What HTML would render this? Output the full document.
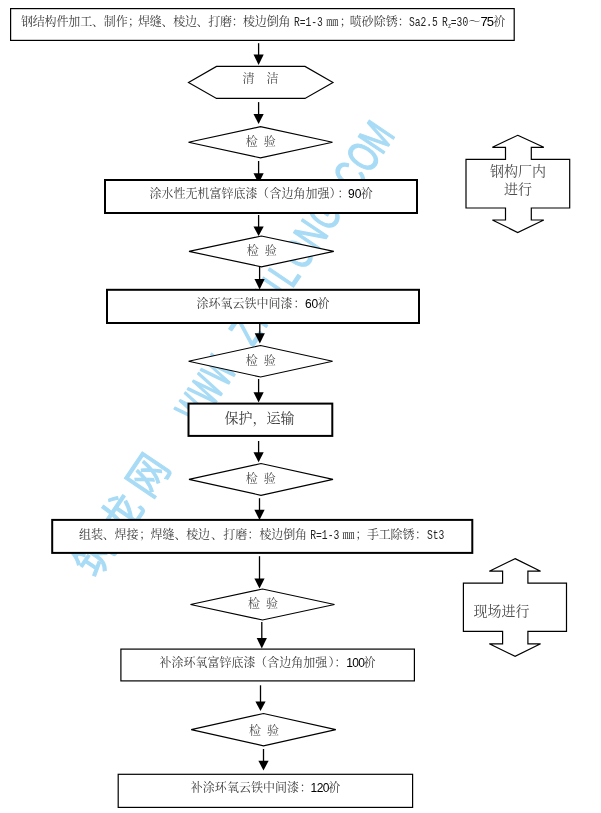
<!DOCTYPE html>
<html lang="zh-CN">
<head>
<meta charset="utf-8">
<title>钢结构涂装工艺流程</title>
<style>
html,body{margin:0;padding:0;background:#fff;}
body{width:601px;height:813px;overflow:hidden;}
svg{display:block;will-change:transform;}
text{white-space:pre;text-spacing-trim:space-all;}
.c{font-family:"Liberation Serif","Noto Serif CJK SC",serif;font-size:12px;fill:#3a3a3a;}
.d{fill:#4c4c4c;}
.m{font-family:"Liberation Mono","Noto Serif CJK SC",monospace;font-size:10.6px;fill:#222;}
.mm{font-size:12px;}
.a{font-family:"Liberation Sans",sans-serif;font-size:12px;fill:#000;}
</style>
</head>
<body>
<svg width="601" height="813" viewBox="0 0 601 813">
<rect width="601" height="813" fill="#fff"/>
<g transform="translate(150,499.8) rotate(-56)" fill="#a8dbf5" stroke="#a8dbf5" stroke-linejoin="round" font-family='"Liberation Sans","Noto Sans CJK SC",sans-serif' aria-label="筑龙网 WWW.ZHULONG.COM">
<text transform="scale(1,1.1)" font-size="38.7" stroke-width="1" x="-96 -47.5 0" y="0">筑龙网</text>
<text transform="scale(0.5,1)" font-size="44.0" stroke-width="1.9" style="vector-effect:non-scaling-stroke" x="177.3 224.2 271.1" y="0">WWW</text>
<text transform="scale(0.68,1)" font-size="44.0" stroke-width="1.2" style="vector-effect:non-scaling-stroke" x="237.1 270.1 302.1 336.7 373.7 404.4 440.1 473.9 513.0 543.3 576.8 610.1" y="0">.ZHULONG.COM</text>
</g>
<line x1="258.6" y1="43.2" x2="258.6" y2="55.5" stroke="#000" stroke-width="1.3"/>
<polygon points="253.50000000000003,54.5 263.70000000000005,54.5 258.6,64.9" fill="#000"/>
<line x1="258.6" y1="102.1" x2="258.6" y2="115.0" stroke="#000" stroke-width="1.3"/>
<polygon points="253.50000000000003,114.0 263.70000000000005,114.0 258.6,124.0" fill="#000"/>
<line x1="258.6" y1="161.0" x2="258.6" y2="174.2" stroke="#000" stroke-width="1.3"/>
<polygon points="253.50000000000003,173.2 263.70000000000005,173.2 258.6,183.5" fill="#000"/>
<line x1="258.6" y1="215.0" x2="258.6" y2="227.6" stroke="#000" stroke-width="1.3"/>
<polygon points="253.50000000000003,226.6 263.70000000000005,226.6 258.6,236.0" fill="#000"/>
<line x1="259.6" y1="266.7" x2="259.6" y2="280.1" stroke="#000" stroke-width="1.3"/>
<polygon points="254.50000000000003,279.1 264.70000000000005,279.1 259.6,289.40000000000003" fill="#000"/>
<line x1="259.8" y1="324.0" x2="259.8" y2="334.3" stroke="#000" stroke-width="1.3"/>
<polygon points="254.70000000000002,333.3 264.90000000000003,333.3 259.8,343.4" fill="#000"/>
<line x1="258.6" y1="379.0" x2="258.6" y2="393.3" stroke="#000" stroke-width="1.3"/>
<polygon points="253.50000000000003,392.3 263.70000000000005,392.3 258.6,402.6" fill="#000"/>
<line x1="258.6" y1="441.0" x2="258.6" y2="453.3" stroke="#000" stroke-width="1.3"/>
<polygon points="253.50000000000003,452.3 263.70000000000005,452.3 258.6,462.3" fill="#000"/>
<line x1="259.5" y1="498.2" x2="259.5" y2="510.8" stroke="#000" stroke-width="1.3"/>
<polygon points="254.4,509.8 264.6,509.8 259.5,520.1" fill="#000"/>
<line x1="259.5" y1="556.2" x2="259.5" y2="579.6" stroke="#000" stroke-width="1.3"/>
<polygon points="254.4,578.6 264.6,578.6 259.5,588.4" fill="#000"/>
<line x1="261.8" y1="622.0" x2="261.8" y2="639.1" stroke="#000" stroke-width="1.3"/>
<polygon points="256.7,638.1 266.90000000000003,638.1 261.8,648.4" fill="#000"/>
<line x1="260.5" y1="685.3" x2="260.5" y2="702.4" stroke="#000" stroke-width="1.3"/>
<polygon points="255.4,701.4 265.6,701.4 260.5,711.1" fill="#000"/>
<line x1="263.5" y1="749.0" x2="263.5" y2="761.8" stroke="#000" stroke-width="1.3"/>
<polygon points="258.4,760.8 268.6,760.8 263.5,770.6" fill="#000"/>
<rect x="10.6" y="8.6" width="503.59999999999997" height="31.8" fill="#fff" stroke="#000" stroke-width="1.2"/>
<polygon points="188.5,82.4 216.5,66.4 305,66.4 333,82.4 305,98.4 216.5,98.4" fill="#fff" stroke="#000" stroke-width="1.15"/>
<text y="83.0" class="c d"><tspan x="242.4 254.4 266.4">清　洁</tspan></text>
<polygon points="188.5,142.3 260.5,126.7 332.5,142.3 260.5,157.9" fill="#fff" stroke="#000" stroke-width="1.15"/>
<text y="146.1" class="c d"><tspan x="245.8 257.8 263.8">检 验</tspan></text>
<rect x="105.0" y="180.0" width="312" height="33" fill="#fff" stroke="#000" stroke-width="2"/>
<polygon points="188.99999999999997,251.4 261.4,236.0 333.79999999999995,251.4 261.4,266.8" fill="#fff" stroke="#000" stroke-width="1.15"/>
<text y="255.2" class="c d"><tspan x="246.8 258.8 264.8">检 验</tspan></text>
<rect x="107.0" y="289.8" width="312" height="33.19999999999999" fill="#fff" stroke="#000" stroke-width="2"/>
<polygon points="188.60000000000002,361.25 260.6,345.5 332.6,361.25 260.6,377.0" fill="#fff" stroke="#000" stroke-width="1.15"/>
<text y="364.5" class="c d"><tspan x="245.7 257.7 263.7">检 验</tspan></text>
<rect x="188.5" y="403.6" width="143.8" height="32.299999999999955" fill="#fff" stroke="#000" stroke-width="2"/>
<polygon points="189.0,479.4 261.0,463.5 333.0,479.4 261.0,495.3" fill="#fff" stroke="#000" stroke-width="1.15"/>
<text y="483.2" class="c d"><tspan x="245.7 257.7 263.7">检 验</tspan></text>
<rect x="52.2" y="519.9" width="420.1" height="33.0" fill="#fff" stroke="#000" stroke-width="2"/>
<polygon points="190.5,604.5 262.5,589.0 334.5,604.5 262.5,620.0" fill="#fff" stroke="#000" stroke-width="1.15"/>
<text y="608.4" class="c d"><tspan x="248.1 260.1 266.1">检 验</tspan></text>
<rect x="120.89999999999999" y="649.1" width="293.5" height="31.8" fill="#fff" stroke="#000" stroke-width="1.2"/>
<polygon points="191.2,729.65 263.5,713.5 335.8,729.65 263.5,745.8" fill="#fff" stroke="#000" stroke-width="1.15"/>
<text y="734.6" class="c d"><tspan x="249.0 261.0 267.0">检 验</tspan></text>
<rect x="118.19999999999999" y="774.3000000000001" width="294.40000000000003" height="33.09999999999995" fill="#fff" stroke="#000" stroke-width="1.2"/>
<polygon points="517.7,135.3 543.8,147.3 531.3,147.3 531.3,159.3 569.7,159.3 569.7,208 531.3,208 531.3,220 543.8,220 517.7,232.5 492.4,220 505.5,220 505.5,208 466,208 466,159.3 505.5,159.3 505.5,147.3 492.4,147.3" fill="#fff" stroke="#000" stroke-width="1.2"/>
<polygon points="515.1,558.6 540.6,571.2 527.9,571.2 527.9,583.1 566.5,583.1 566.5,631.3 527.9,631.3 527.9,643.8 540.6,643.8 515.1,656.3 489.3,643.8 502.6,643.8 502.6,631.3 463.4,631.3 463.4,583.1 502.6,583.1 502.6,571.2 489.3,571.2" fill="#fff" stroke="#000" stroke-width="1.2"/>
<text y="26.2" class="c"><tspan x="20.9 32.8 44.6 56.4 68.3 80.2 92.0 103.8 115.7">钢结构件加工、制作</tspan><tspan x="128.0">；</tspan><tspan x="138.1 149.8 161.5 173.2 184.9 196.6 208.3 220.0 231.7">焊缝、棱边、打磨：</tspan><tspan x="242.9 254.8 266.7 278.6">棱边倒角</tspan><tspan class="mm" x="326.3">㎜</tspan><tspan x="339.8">；</tspan><tspan x="349.8 361.8 373.8 385.8 397.8">喷砂除锈：</tspan><tspan x="468.4">～</tspan><tspan class="a" x="480.6 486.7" style="font-size:13px">75</tspan><tspan x="493.2">祄</tspan></text>
<text transform="translate(294.0,26.2) scale(0.741,1)" class="m" style="font-size:13.0px">R=1-3</text>
<text transform="translate(408.9,26.2) scale(0.744,1)" class="m" style="font-size:13.0px">Sa2.5</text>
<text transform="translate(442.1,26.2) scale(0.744,1)" class="m" style="font-size:13.0px">R</text>
<text transform="translate(447.9,27.6) scale(0.762,1)" class="m" style="font-size:7px">z</text>
<text transform="translate(450.8,26.2) scale(0.744,1)" class="m" style="font-size:13.0px">=30</text>
<text y="198.2" class="c"><tspan x="149.5 161.5 173.5 185.5 197.5 209.5 221.5 233.5 245.5">涂水性无机富锌底漆</tspan><tspan x="257.0">（</tspan><tspan x="269.5 281.5 293.5 305.5 317.5">含边角加强</tspan><tspan x="329.6">）</tspan><tspan x="337.6">：</tspan><tspan class="a" x="348.1 354.8">90</tspan><tspan x="360.8">祄</tspan></text>
<text y="308.4" class="c"><tspan x="196.5 208.5 220.5 232.6 244.6 256.6 268.6 280.6">涂环氧云铁中间漆</tspan><tspan x="293.6">：</tspan><tspan class="a" x="304.9 311.6">60</tspan><tspan x="317.6">祄</tspan></text>
<text x="259.6" y="423.3" class="c" text-anchor="middle" style="font-size:14px">保护，运输</text>
<text y="538.9" class="c"><tspan x="79.0 90.9">组装</tspan><tspan x="102.8">、</tspan><tspan x="114.4 126.4">焊接</tspan><tspan x="139.2">；</tspan><tspan x="150.6 162.4">焊缝</tspan><tspan x="174.4">、</tspan><tspan x="186.3 198.1">棱边</tspan><tspan x="210.9">、</tspan><tspan x="223.2 235.2">打磨</tspan><tspan x="247.5">：</tspan><tspan x="259.4 271.3 283.2 295.1">棱边倒角</tspan><tspan class="mm" x="342.6">㎜</tspan><tspan x="355.6">；</tspan><tspan x="366.9 378.8 390.6 402.4">手工除锈</tspan><tspan x="414.9">：</tspan></text>
<text transform="translate(310.2,538.9) scale(0.749,1)" class="m" style="font-size:13.0px">R=1-3</text>
<text transform="translate(426.9,538.9) scale(0.748,1)" class="m" style="font-size:13.0px">St3</text>
<text y="667.2" class="c"><tspan x="159.5 171.5 183.5 195.5 207.5 219.5 231.5 243.5">补涂环氧富锌底漆</tspan><tspan x="255.0">（</tspan><tspan x="267.3 279.3 291.3 303.3 315.3">含边角加强</tspan><tspan x="328.6">）</tspan><tspan x="334.6">：</tspan><tspan class="a" x="346.2 352.2 358.2">100</tspan><tspan x="363.4">祄</tspan></text>
<text y="792.0" class="c"><tspan x="190.8 202.8 214.8 226.9 238.9 250.9 262.9 274.9 287.0">补涂环氧云铁中间漆</tspan><tspan x="299.8">：</tspan><tspan class="a" x="310.6 316.7 322.8">120</tspan><tspan x="328.3">祄</tspan></text>
<text x="517.9" y="175.7" class="c d" text-anchor="middle" style="font-size:14px">钢构厂内</text>
<text x="517.9" y="193.8" class="c d" text-anchor="middle" style="font-size:14px">进行</text>
<text x="473.6" y="616.3" class="c d" style="font-size:14px">现场进行</text>
</svg>
</body>
</html>
